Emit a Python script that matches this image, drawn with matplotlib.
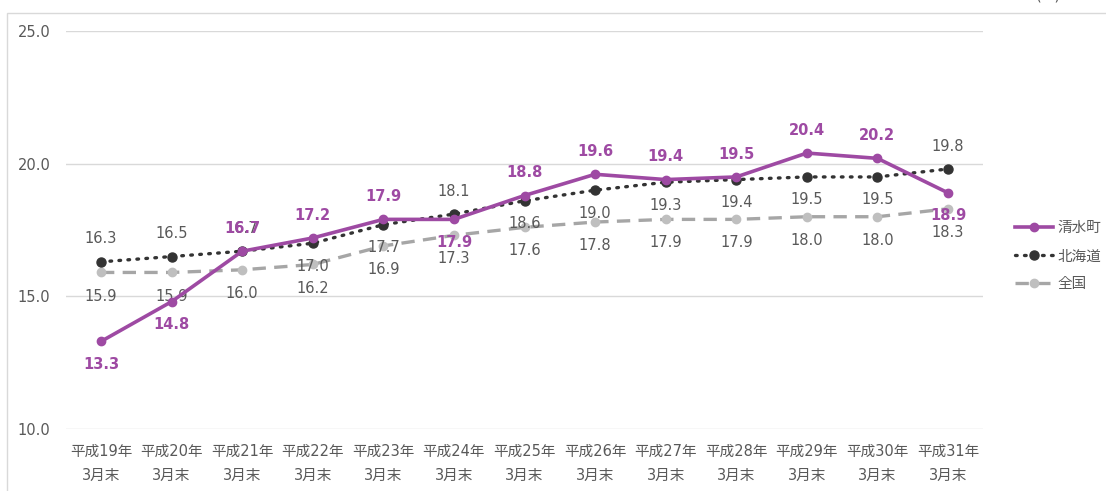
import matplotlib.pyplot as plt
from matplotlib.patches import Rectangle
import numpy as np

plt.rcParams['font.family'] = ['DejaVu Sans', 'Noto Sans CJK JP']

# data
categories = ['平成19年\n3月末', '平成20年\n3月末', '平成21年\n3月末', '平成22年\n3月末',
              '平成23年\n3月末', '平成24年\n3月末', '平成25年\n3月末', '平成26年\n3月末',
              '平成27年\n3月末', '平成28年\n3月末', '平成29年\n3月末', '平成30年\n3月末',
              '平成31年\n3月末']
shimizu = [13.3, 14.8, 16.7, 17.2, 17.9, 17.9, 18.8, 19.6, 19.4, 19.5, 20.4, 20.2, 18.9]
hokkaido = [16.3, 16.5, 16.7, 17.0, 17.7, 18.1, 18.6, 19.0, 19.3, 19.4, 19.5, 19.5, 19.8]
zenkoku = [15.9, 15.9, 16.0, 16.2, 16.9, 17.3, 17.6, 17.8, 17.9, 17.9, 18.0, 18.0, 18.3]
series_names = ['清水町', '北海道', '全国']

# label placement: 1 = above, -1 = below
shimizu_pos = [-1, -1, 1, 1, 1, -1, 1, 1, 1, 1, 1, 1, -1]
hokkaido_pos = [1, 1, 1, -1, -1, 1, -1, -1, -1, -1, -1, -1, 1]
zenkoku_pos = [-1] * 13

purple = '#9E4AA3'
dark = '#333333'
gray = '#A6A6A6'
txt = '#595959'

fig = plt.figure(figsize=(11.06, 4.91), dpi=100)
ax = fig.add_axes([65.7 / 1106, 62 / 491, (983.3 - 65.7) / 1106, (429 - 31) / 491])

# outer chart frame
fig.patches.append(Rectangle((7 / 1106, -0.1), 1.2, 1 - 13 / 491 + 0.1,
                             transform=fig.transFigure, fill=False,
                             edgecolor='#D9D9D9', linewidth=1))

x = np.arange(len(categories))
l3, = ax.plot(x, zenkoku, color=gray, lw=2.4, ls=(0, (4, 2.5)), marker='o', ms=6,
              mfc='#BFBFBF', mec='#BFBFBF', label=series_names[2], zorder=3)
l2, = ax.plot(x, hokkaido, color=dark, lw=2.4, ls=(0, (0.5, 2.2)), dash_capstyle='round',
              marker='o', ms=6.5, mfc=dark, mec=dark, label=series_names[1], zorder=4)
l1, = ax.plot(x, shimizu, color=purple, lw=2.6, marker='o', ms=6, mfc=purple, mec=purple,
              label=series_names[0], zorder=5)

off = 16.5
for i in range(len(x)):
    ax.annotate(f'{zenkoku[i]:.1f}', (x[i], zenkoku[i]), xytext=(0, 17 * zenkoku_pos[i]),
                textcoords='offset points', ha='center', va='center', fontsize=10.5, color=txt)
    ax.annotate(f'{hokkaido[i]:.1f}', (x[i], hokkaido[i]), xytext=(0, off * hokkaido_pos[i]),
                textcoords='offset points', ha='center', va='center', fontsize=10.5, color=txt)
    ax.annotate(f'{shimizu[i]:.1f}', (x[i], shimizu[i]), xytext=(0, off * shimizu_pos[i]),
                textcoords='offset points', ha='center', va='center', fontsize=10.5,
                color=purple, fontweight='bold', zorder=6)

ax.set_xlim(-0.5, len(x) - 0.5)
ax.set_ylim(10, 25)
ax.set_yticks([10, 15, 20, 25])
ax.set_yticklabels(['10.0', '15.0', '20.0', '25.0'])
ax.set_xticks(x)
ax.set_xticklabels(categories, linespacing=1.75)
ax.tick_params(axis='both', length=0, labelsize=10.5, colors=txt)
ax.tick_params(axis='y', pad=11)
ax.tick_params(axis='x', pad=11)
ax.grid(True, axis='y', color='#D9D9D9', lw=1)
ax.set_axisbelow(True)
for s in ax.spines.values():
    s.set_visible(False)

ax.legend([l1, l2, l3], series_names, loc='center left', bbox_to_anchor=(1.02, 0.435),
          frameon=False, fontsize=10.5, labelcolor=txt, handlelength=2.6,
          labelspacing=0.9, handletextpad=0.3)

# unit label, mostly cut off at the top edge as in the reference
fig.text(1048 / 1106, 1 + 1 / 491, '(%)', ha='center', va='baseline', fontsize=10.5, color=txt)

fig.savefig('out.png', dpi=100)
